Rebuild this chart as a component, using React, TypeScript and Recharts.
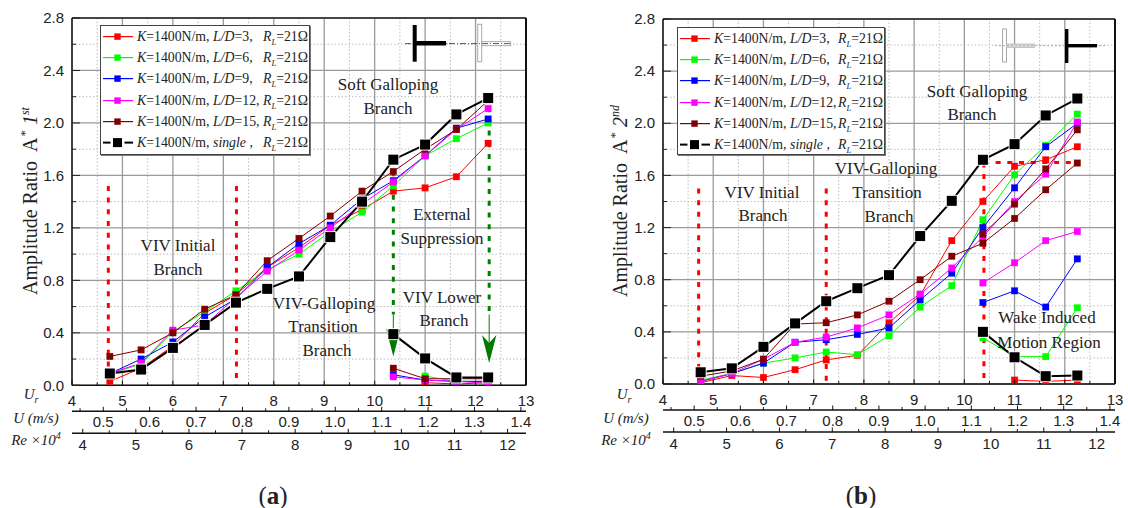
import React from 'react';
import { LineChart, Line, XAxis, YAxis, CartesianGrid, ReferenceLine, ReferenceDot, Legend } from 'recharts';

const ur = [4.75, 5.37, 6.0, 6.63, 7.25, 7.87, 8.5, 9.12, 9.75, 10.37, 11.0, 11.62, 12.25];
const _ = null;

// Panel (a) A* 1st
const a_ld3 = [0.03, 0.13, 0.3, 0.55, 0.69, 0.9, 1.05, 1.22, 1.34, 1.48, 1.505, 1.59, 1.845];
const a_ld6 = [0.09, 0.16, 0.41, 0.56, 0.72, 0.88, 1.0, 1.17, 1.32, 1.52, 1.75, 1.88, 2.0];
const a_ld9 = [0.09, 0.2, 0.33, 0.52, 0.66, 0.9, 1.08, 1.22, 1.42, 1.56, 1.75, 1.96, 2.03];
const a_ld12 = [0.09, 0.17, 0.42, 0.46, 0.67, 0.87, 1.03, 1.2, 1.38, 1.55, 1.75, 1.95, 2.11];
const a_ld15 = [0.22, 0.27, 0.4, 0.58, 0.69, 0.95, 1.12, 1.29, 1.48, 1.63, 1.8, 1.95, 2.17];
const a_single = [0.09, 0.12, 0.285, 0.46, 0.63, 0.735, 0.83, 1.13, 1.4, 1.72, 1.835, 2.065, 2.19];
const a_ld3Low = [_, _, _, _, _, _, _, _, _, _, 0.02, 0.01, 0.02];
const a_ld6Low = [_, _, _, _, _, _, _, _, _, _, 0.07, 0.03, 0.03];
const a_ld9Low = [_, _, _, _, _, _, _, _, _, 0.08, 0.04, 0.03, 0.03];
const a_ld12Low = [_, _, _, _, _, _, _, _, _, 0.065, 0.04, 0.03, 0.015];
const a_ld15Low = [_, _, _, _, _, _, _, _, _, 0.13, 0.05, 0.05, 0.05];
const a_singleLow = [_, _, _, _, _, _, _, _, _, 0.39, 0.205, 0.06, 0.06];

// Panel (b) A* 2nd
const b_ld3 = [0.01, 0.065, 0.05, 0.11, 0.185, 0.22, 0.47, 0.68, 1.1, 1.4, 1.67, 1.72, 1.82];
const b_ld6 = [0.03, 0.08, 0.16, 0.2, 0.245, 0.225, 0.37, 0.59, 0.755, 1.26, 1.605, 1.83, 2.07];
const b_ld9 = [0.02, 0.08, 0.16, 0.32, 0.34, 0.38, 0.43, 0.645, 0.85, 1.2, 1.505, 1.82, 2.0];
const b_ld12 = [0.02, 0.08, 0.19, 0.32, 0.36, 0.43, 0.53, 0.69, 0.89, 1.13, 1.4, 1.61, 2.01];
const b_ld15 = [0.06, 0.1, 0.19, 0.46, 0.47, 0.53, 0.635, 0.8, 0.98, 1.08, 1.27, 1.49, 1.695];
const b_single = [0.09, 0.12, 0.285, 0.465, 0.635, 0.735, 0.835, 1.135, 1.405, 1.72, 1.84, 2.06, 2.19];
const b_ld3Low = [_, _, _, _, _, _, _, _, _, _, 0.03, 0.02, 0.03];
const b_ld6Low = [_, _, _, _, _, _, _, _, _, 0.355, 0.21, 0.21, 0.585];
const b_ld9Low = [_, _, _, _, _, _, _, _, _, 0.625, 0.715, 0.59, 0.96];
const b_ld12Low = [_, _, _, _, _, _, _, _, _, 0.775, 0.93, 1.1, 1.17];
const b_ld15Alt = [_, _, _, _, _, _, _, _, _, 1.15, 1.38, 1.65, 1.95];
const b_singleLow = [_, _, _, _, _, _, _, _, _, 0.4, 0.205, 0.06, 0.065];

const urTicks = [4, 4.5, 5, 5.5, 6, 6.5, 7, 7.5, 8, 8.5, 9, 9.5, 10, 10.5, 11, 11.5, 12, 12.5, 13];
const uTicks = [0.45, 0.5, 0.55, 0.6, 0.65, 0.7, 0.75, 0.8, 0.85, 0.9, 0.95, 1.0, 1.05, 1.1, 1.15, 1.2, 1.25, 1.3, 1.35, 1.4];
const reTicks = [4, 4.5, 5, 5.5, 6, 6.5, 7, 7.5, 8, 8.5, 9, 9.5, 10, 10.5, 11, 11.5, 12];
const yTicks = [0, 0.2, 0.4, 0.6, 0.8, 1.0, 1.2, 1.4, 1.6, 1.8, 2.0, 2.2, 2.4, 2.6, 2.8];
const yMajor = [0, 0.4, 0.8, 1.2, 1.6, 2.0, 2.4, 2.8];
const yMinor = [0.2, 0.6, 1.0, 1.4, 1.8, 2.2, 2.6];
const xMajor = [5, 6, 7, 8, 9, 10, 11, 12];
const xMinor = [4.5, 5.5, 6.5, 7.5, 8.5, 9.5, 10.5, 11.5, 12.5];
const uLabeled = [0.5, 0.6, 0.7, 0.8, 0.9, 1.0, 1.1, 1.2, 1.3, 1.4];
const reLabeled = [4, 5, 6, 7, 8, 9, 10, 11, 12];

const colors = ['#ff0000', '#00ff00', '#0000ff', '#ff00ff', '#800000', '#000000'];
const legendDs = ['=3,', '=6,', '=9,', '=12,', '=15,', null];

const SANS = '"Liberation Sans", Arial, sans-serif';
const SERIF = '"Liberation Serif", "Times New Roman", serif';
const INK = '#222';

function rows(cols: Record<string, (number | null)[]>) {
  return ur.map((x, i) => {
    const r: Record<string, number | null> = { x };
    Object.keys(cols).forEach((k) => { r[k] = cols[k][i]; });
    return r;
  });
}
const dataA = rows({ a_ld3, a_ld6, a_ld9, a_ld12, a_ld15, a_single, a_ld3Low, a_ld6Low, a_ld9Low, a_ld12Low, a_ld15Low, a_singleLow });
const dataB = rows({ b_ld3, b_ld6, b_ld9, b_ld12, b_ld15, b_single, b_ld3Low, b_ld6Low, b_ld9Low, b_ld12Low, b_ld15Alt, b_singleLow });

const Mark = (color: string) => (p: any) => {
  if (p.cy == null || p.cx == null) return <g key={p.index} />;
  const black = color === '#000000';
  const s = black ? 10 : 6.6;
  return (
    <rect key={p.index} x={p.cx - s / 2} y={p.cy - s / 2} width={s} height={s} fill={color}
      stroke={black ? '#fff' : color} strokeWidth={black ? 2 : 0.5} strokeOpacity={black ? 0.9 : 0.4} paintOrder="stroke" />
  );
};

const xTick = (labeled: number[], dy: number, fmt: (v: number) => string) => (p: any) => {
  const v = p.payload.value;
  const on = labeled.some((l) => Math.abs(l - v) < 1e-6);
  return (
    <g>
      <line x1={p.x} x2={p.x} y1={p.y} y2={p.y - (on ? 4.5 : 3)} stroke="#111" strokeWidth={1} />
      {on && <text x={p.x} y={p.y + dy} textAnchor="middle" fontFamily={SANS} fontSize={15} fill={INK}>{fmt(v)}</text>}
    </g>
  );
};
const yTick = (p: any) => {
  const v = p.payload.value;
  const on = yMajor.some((l) => Math.abs(l - v) < 1e-6);
  return (
    <g>
      <line x1={p.x} x2={p.x + (on ? 8 : 4)} y1={p.y} y2={p.y} stroke="#222" strokeWidth={1} />
      {on && <text x={p.x - 8} y={p.y + 5.2} textAnchor="end" fontFamily={SANS} fontSize={15} fill={INK}>{v.toFixed(1)}</text>}
    </g>
  );
};

const ArrowHead = (p: any) => (
  <path d={`M${p.cx} ${p.cy}L${p.cx - 7.2} ${p.cy - 28}L${p.cx} ${p.cy - 20}L${p.cx + 7.2} ${p.cy - 28}Z`} fill="#007a00" />
);

function LegendBox({ w, h, sampleW, textX, rX, rowH }: any) {
  return (
    <div style={{ width: w, height: h, boxSizing: 'border-box', border: '1.5px solid #444', boxShadow: '1px 1px 0 #777', background: '#fff', position: 'relative', fontFamily: SERIF, fontSize: 13.8, color: INK }}>
      {colors.map((c, i) => {
        const black = i === 5;
        const top = i * rowH;
        return (
          <div key={c} style={{ position: 'absolute', left: 0, top, width: w - 4, height: rowH, whiteSpace: 'nowrap', lineHeight: rowH + 'px' }}>
            <svg width={sampleW + 4} height={rowH} style={{ position: 'absolute', left: 1, top: 0 }}>
              <line x1={1} x2={sampleW} y1={rowH / 2} y2={rowH / 2} stroke={c} strokeWidth={black ? 2 : 1.2} />
              {black && <rect x={sampleW / 2 - 7} y={rowH / 2 - 5} width={14} height={10} fill="#fff" />}
              <rect x={sampleW / 2 - (black ? 4.5 : 3.2)} y={rowH / 2 - (black ? 4.5 : 3.2)} width={black ? 9 : 6.4} height={black ? 9 : 6.4} fill={c} />
            </svg>
            <span style={{ position: 'absolute', left: textX }}>
              <i>K</i>=1400N/m, {legendDs[i] ? <><i>L/D</i>{legendDs[i]}</> : <><i>single ,</i></>}
            </span>
            <span style={{ position: 'absolute', left: rX }}>
              <i>R</i><sub style={{ fontSize: 8.5, fontStyle: 'italic', lineHeight: 0 }}>L</sub>=21Ω
            </span>
          </div>
        );
      })}
    </div>
  );
}

function Note({ x, y, children, size = 17 }: any) {
  return (
    <div style={{ position: 'absolute', left: x, top: y, transform: 'translate(-50%,-50%)', fontFamily: SERIF, fontSize: size, color: INK, whiteSpace: 'nowrap', lineHeight: 1 }}>
      {children}
    </div>
  );
}

function Panel({ data, keys, lowKeys, W, mL, mT, mR, mB, legend, under, over }: any) {
  return (
    <LineChart width={W} height={508} data={data} margin={{ left: mL, top: mT, right: mR, bottom: mB }}>
      <CartesianGrid xAxisId="a_ur" horizontal vertical horizontalValues={yMinor} verticalValues={xMinor} stroke="#bdbdbd" strokeDasharray="1.5 2" strokeWidth={1} />
      <CartesianGrid xAxisId="a_ur" horizontal vertical horizontalValues={yMajor} verticalValues={xMajor} stroke="#9a9a9a" strokeWidth={1.3} />
      <XAxis xAxisId="a_ur" dataKey="x" type="number" domain={[4, 13]} ticks={urTicks} interval={0} height={26} tickSize={0} tickMargin={0} tickLine={false} allowDataOverflow
        axisLine={{ stroke: '#111', strokeWidth: 1.6 }} tick={xTick(urTicks.filter((t) => Number.isInteger(t)), 21, (v) => String(v))} />
      <XAxis xAxisId="b_u" dataKey="x" type="number" domain={[0.4326, 1.411]} ticks={uTicks} interval={0} height={22} tickSize={0} tickMargin={0} tickLine={false} allowDataOverflow
        axisLine={{ stroke: '#111', strokeWidth: 1.6 }} tick={xTick(uLabeled, 16, (v) => v.toFixed(1))} />
      <XAxis xAxisId="c_re" dataKey="x" type="number" domain={[3.798, 12.347]} ticks={reTicks} interval={0} height={24} tickSize={0} tickMargin={0} tickLine={false} allowDataOverflow
        axisLine={{ stroke: '#111', strokeWidth: 1.6 }} tick={xTick(reLabeled, 16.7, (v) => String(v))} />
      <YAxis type="number" domain={[0, 2.8]} ticks={yTicks} interval={0} width={40} tickSize={0} tickMargin={0} tickLine={false} allowDataOverflow
        axisLine={{ stroke: '#111', strokeWidth: 1.6 }} tick={yTick} />
      <ReferenceLine xAxisId="a_ur" y={2.8} stroke="#222" strokeWidth={1.5} ifOverflow="visible" />
      <ReferenceLine xAxisId="a_ur" x={13} stroke="#111" strokeWidth={2} ifOverflow="visible" />
      {under}
      {keys.map((k: string, i: number) => (
        <Line key={k} xAxisId="a_ur" dataKey={k} stroke={colors[i]} strokeWidth={i === 5 ? 2 : 1} dot={Mark(colors[i])} activeDot={false} isAnimationActive={false} />
      ))}
      {lowKeys.map((k: string, i: number) => (
        <Line key={k} xAxisId="a_ur" dataKey={k} stroke={colors[i]} strokeWidth={i === 5 ? 2 : 1} dot={Mark(colors[i])} activeDot={false} isAnimationActive={false} />
      ))}
      {over}
      <Legend layout="vertical" align="center" verticalAlign="middle" wrapperStyle={legend.wrap} content={() => <LegendBox {...legend.box} />} />
    </LineChart>
  );
}

const redDot = { stroke: '#ff0000', strokeWidth: 3, strokeDasharray: '5 6.7', ifOverflow: 'visible' as const };
const greenDot = { stroke: '#008000', strokeWidth: 3, strokeDasharray: '5 6.7', ifOverflow: 'visible' as const };
const greenThin = { stroke: '#008000', strokeWidth: 1, ifOverflow: 'visible' as const };
const seg = (x1: number, y1: number, x2: number, y2: number) => [{ x: x1, y: y1 }, { x: x2, y: y2 }];

const overA = [
  <ReferenceLine key="r1" xAxisId="a_ur" segment={seg(4.72, 1.52, 4.72, 0)} {...redDot} />,
  <ReferenceLine key="r2" xAxisId="a_ur" segment={seg(7.26, 1.52, 7.26, 0)} {...redDot} />,
  <ReferenceLine key="g1" xAxisId="a_ur" segment={seg(10.37, 1.72, 10.37, 0.54)} {...greenDot} />,
  <ReferenceLine key="g2" xAxisId="a_ur" segment={seg(12.27, 2.12, 12.27, 0.54)} {...greenDot} />,
  <ReferenceLine key="g3" xAxisId="a_ur" segment={seg(10.37, 0.54, 10.37, 0.3)} {...greenThin} />,
  <ReferenceLine key="g4" xAxisId="a_ur" segment={seg(12.27, 0.54, 12.27, 0.25)} {...greenThin} />,
  <ReferenceDot key="h1" xAxisId="a_ur" x={10.37} y={0.22} r={1} ifOverflow="visible" shape={ArrowHead} />,
  <ReferenceDot key="h2" xAxisId="a_ur" x={12.27} y={0.17} r={1} ifOverflow="visible" shape={ArrowHead} />,
];
const overB = [
  <ReferenceLine key="r1" xAxisId="a_ur" segment={seg(4.71, 1.5, 4.71, 0)} {...redDot} />,
  <ReferenceLine key="r2" xAxisId="a_ur" segment={seg(7.25, 1.5, 7.25, 0)} {...redDot} />,
  <ReferenceLine key="r3" xAxisId="a_ur" segment={seg(10.39, 1.7, 10.39, 0)} {...redDot} />,
  <ReferenceLine key="r4" xAxisId="a_ur" segment={seg(10.39, 1.7, 12.25, 1.7)} {...redDot} />,
];

function IconA() {
  return (
    <svg width={130} height={50} style={{ position: 'absolute', left: 400, top: 20 }}>
      <rect x={77.7} y={4.3} width={4} height={37.4} fill="#fff" stroke="#aaa" strokeWidth={1} />
      <rect x={81.7} y={21.7} width={29} height={4} fill="#fff" stroke="#999" strokeWidth={0.8} />
      <line x1={5} x2={110} y1={23.6} y2={23.6} stroke="#444" strokeWidth={0.9} strokeDasharray="6 2 1 2" />
      <rect x={12.7} y={5} width={4} height={36.7} fill="#000" />
      <rect x={16} y={21} width={30} height={4.5} fill="#000" />
    </svg>
  );
}
function IconB() {
  return (
    <svg width={130} height={50} style={{ position: 'absolute', left: 990, top: 23 }}>
      <rect x={12.5} y={6} width={4} height={33} fill="#fff" stroke="#aaa" strokeWidth={1} />
      <rect x={16.5} y={21} width={28} height={3.6} fill="#ddd" stroke="#bbb" strokeWidth={0.8} />
      <line x1={5} x2={115} y1={22.7} y2={22.7} stroke="#999" strokeWidth={0.8} strokeDasharray="2 2" />
      <rect x={75} y={6} width={3.4} height={34} fill="#000" />
      <rect x={77} y={21} width={30} height={3.4} fill="#000" />
    </svg>
  );
}

function YTitle({ x, y, ord, suf }: any) {
  return (
    <div style={{ position: 'absolute', left: x, top: y, transform: 'translate(-50%,-50%) rotate(-90deg)', fontFamily: SERIF, fontSize: 20, color: INK, whiteSpace: 'nowrap', lineHeight: 1 }}>
      Amplitude Ratio<span style={{ marginLeft: 9 }}>A</span><sup style={{ fontSize: 13, lineHeight: 0, marginLeft: 1 }}>*</sup><i style={{ marginLeft: 5 }}>{ord}</i><sup style={{ fontSize: 12, lineHeight: 0, fontStyle: 'italic' }}>{suf}</sup>
    </div>
  );
}

function AxisNames({ x }: any) {
  const st: React.CSSProperties = { position: 'absolute', fontFamily: SERIF, fontStyle: 'italic', fontSize: 15, color: INK, whiteSpace: 'nowrap', transform: 'translate(-50%,-50%)', lineHeight: 1 };
  return (
    <>
      <div style={{ ...st, left: x.ur, top: 394 }}>U<sub style={{ fontSize: 10, lineHeight: 0 }}>r</sub></div>
      <div style={{ ...st, left: x.u, top: 418 }}>U (m/s)</div>
      <div style={{ ...st, left: x.re, top: 440 }}>Re ×10<sup style={{ fontSize: 10, lineHeight: 0 }}>4</sup></div>
    </>
  );
}

export default function App() {
  return (
    <div style={{ position: 'absolute', left: 0, top: 0, width: 1128, height: 508, background: '#fff', overflow: 'hidden' }}>
      <div style={{ position: 'absolute', left: 0, top: 0 }}>
        <Panel data={dataA} W={564} mL={32} mT={18} mR={38} mB={50.7}
          keys={['a_ld3', 'a_ld6', 'a_ld9', 'a_ld12', 'a_ld15', 'a_single']}
          lowKeys={['a_ld3Low', 'a_ld6Low', 'a_ld9Low', 'a_ld12Low', 'a_ld15Low', 'a_singleLow']}
          over={overA}
          legend={{ wrap: { left: 100, top: 25, width: 210, height: 130 }, box: { w: 210, h: 130, sampleW: 31, textX: 36, rX: 162, rowH: 21.2 } }} />
      </div>
      <div style={{ position: 'absolute', left: 564, top: 0 }}>
        <Panel data={dataB} W={564} mL={59} mT={19} mR={13} mB={52}
          keys={['b_ld3', 'b_ld6', 'b_ld9', 'b_ld12', 'b_ld15', 'b_single']}
          lowKeys={['b_ld3Low', 'b_ld6Low', 'b_ld9Low', 'b_ld12Low', 'b_ld15Alt', 'b_singleLow']}
          under={overB}
          legend={{ wrap: { left: 113, top: 27, width: 208, height: 128 }, box: { w: 208, h: 128, sampleW: 31, textX: 36, rX: 160, rowH: 21.2 } }} />
      </div>

      <IconA />
      <IconB />
      <YTitle x={30} y={201} ord="1" suf="st" />
      <YTitle x={620} y={201} ord="2" suf="nd" />
      <AxisNames x={{ ur: 31, u: 36, re: 36 }} />
      <AxisNames x={{ ur: 624, u: 626, re: 626 }} />

      <Note x={388} y={84}>Soft Galloping</Note>
      <Note x={388} y={108}>Branch</Note>
      <Note x={178} y={245}>VIV Initial</Note>
      <Note x={178} y={269}>Branch</Note>
      <Note x={324} y={303}>VIV-Galloping</Note>
      <Note x={323} y={326}>Transition</Note>
      <Note x={327} y={350}>Branch</Note>
      <Note x={442} y={214}>External</Note>
      <Note x={442} y={238}>Suppression</Note>
      <Note x={442} y={297}>VIV Lower</Note>
      <Note x={444} y={320}>Branch</Note>

      <Note x={977} y={91}>Soft Galloping</Note>
      <Note x={972} y={114}>Branch</Note>
      <Note x={762} y={192}>VIV Initial</Note>
      <Note x={763} y={215}>Branch</Note>
      <Note x={886} y={168}>VIV-Galloping</Note>
      <Note x={887} y={192}>Transition</Note>
      <Note x={889} y={216}>Branch</Note>
      <Note x={1047} y={317}>Wake Induced</Note>
      <Note x={1049} y={342}>Motion Region</Note>

      <Note x={273} y={495} size={25}>(<b>a</b>)</Note>
      <Note x={861} y={495} size={25}>(<b>b</b>)</Note>
    </div>
  );
}
